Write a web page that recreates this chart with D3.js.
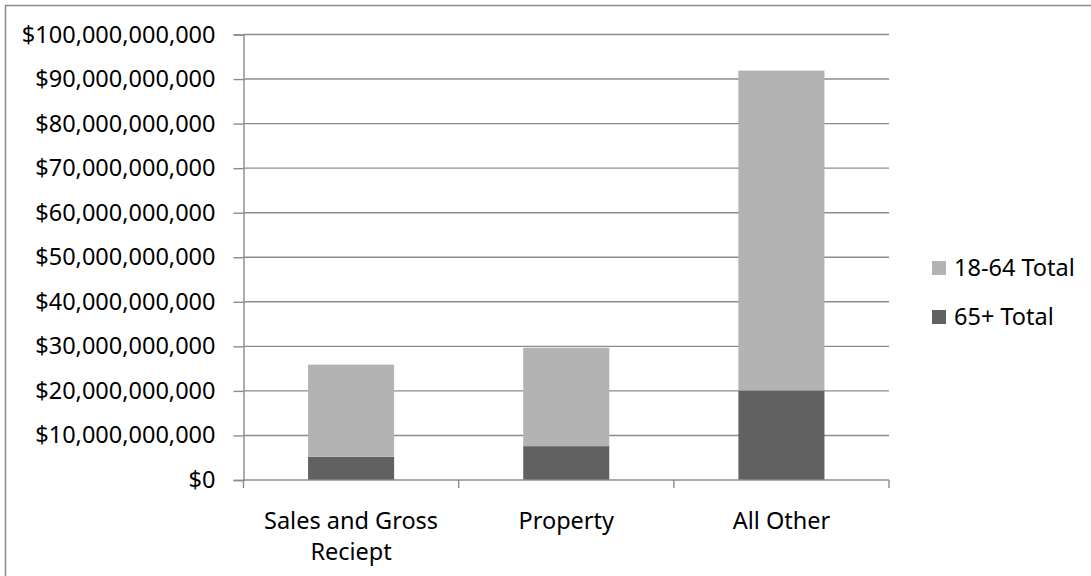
<!DOCTYPE html>
<html><head><meta charset="utf-8">
<script src="https://cdn.jsdelivr.net/npm/d3@7"></script>
<style>body{margin:0;background:#fff}svg{display:block}text{font-family:"Noto Sans",sans-serif;fill:#000}</style>
</head><body><svg id="c" width="1091" height="576"></svg>
<script>
const categories = ["Sales and Gross Reciept", "Property", "All Other"];
const categoryLines = [["Sales and Gross", "Reciept"], ["Property"], ["All Other"]];
const seriesNames = ["65+ Total", "18-64 Total"];
const senior = [5200000000, 7600000000, 20100000000];
const adult = [20700000000, 22100000000, 71800000000];
const yTicks = [0,10e9,20e9,30e9,40e9,50e9,60e9,70e9,80e9,90e9,100e9];
const colors = {"65+ Total":"#616161","18-64 Total":"#b3b3b3"};

const svg = d3.select("#c");
svg.append("rect").attr("x",5.5).attr("y",5.5).attr("width",1100).attr("height",600)
  .attr("fill","#fff").attr("stroke","#8a8a8a").attr("stroke-width",1.5);

const x = d3.scaleBand().domain(categories).range([243.5, 889]).paddingInner(0.6).paddingOuter(0.3);
const y = d3.scaleLinear().domain([0, 100e9]).range([480, 34.5]);
const fmt = v => "$" + d3.format(",")(v);

svg.append("g").selectAll("line").data(yTicks.filter(d=>d>0)).join("line")
  .attr("x1",243.5).attr("x2",889).attr("y1",d=>y(d)).attr("y2",d=>y(d))
  .attr("stroke","#8c8c8c").attr("stroke-width",1.4);

const ya = svg.append("g").attr("transform","translate(243.5,0)")
  .call(d3.axisLeft(y).tickValues(yTicks).tickFormat(fmt).tickSize(10).tickPadding(18));
ya.select(".domain").attr("stroke","#8c8c8c").attr("stroke-width",1.4);
ya.selectAll(".tick line").attr("stroke","#8c8c8c").attr("stroke-width",1.4);
ya.selectAll(".tick text").attr("font-size","23.5px").attr("font-family","Noto Sans").attr("fill","#000");

const rows = categories.map((c,i)=>({cat:c,"65+ Total":senior[i],"18-64 Total":adult[i]}));
const stack = d3.stack().keys(seriesNames)(rows);
svg.append("g").selectAll("g").data(stack).join("g").attr("fill",d=>colors[d.key])
  .selectAll("rect").data(d=>d).join("rect")
  .attr("x",d=>x(d.data.cat)).attr("width",x.bandwidth())
  .attr("y",d=>y(d[1])).attr("height",d=>y(d[0])-y(d[1]));

svg.append("line").attr("x1",243.5).attr("x2",889).attr("y1",480).attr("y2",480)
  .attr("stroke","#8c8c8c").attr("stroke-width",1.4);
const bounds = [243.5].concat(categories.map(c=>x(c)-x.step()*x.paddingInner()/2+x.step()));
svg.append("g").selectAll("line").data(bounds).join("line")
  .attr("x1",d=>d).attr("x2",d=>d).attr("y1",480).attr("y2",488)
  .attr("stroke","#8c8c8c").attr("stroke-width",1.4);
categories.forEach((c,i)=>{
  const t = svg.append("text").attr("x",x(c)+x.bandwidth()/2).attr("y",529)
    .attr("text-anchor","middle").attr("font-size","23.5px");
  categoryLines[i].forEach((ln,j)=>t.append("tspan").attr("x",x(c)+x.bandwidth()/2).attr("dy",j?31:0).text(ln));
});

const legendOrder = ["18-64 Total","65+ Total"];
const lg = svg.append("g").selectAll("g").data(legendOrder).join("g")
  .attr("transform",(d,i)=>`translate(932,${261+i*49})`);
lg.append("rect").attr("width",14).attr("height",14).attr("fill",d=>colors[d]);
lg.append("text").attr("x",22).attr("y",15).attr("font-size","23.5px").text(d=>d);
</script></body></html>
